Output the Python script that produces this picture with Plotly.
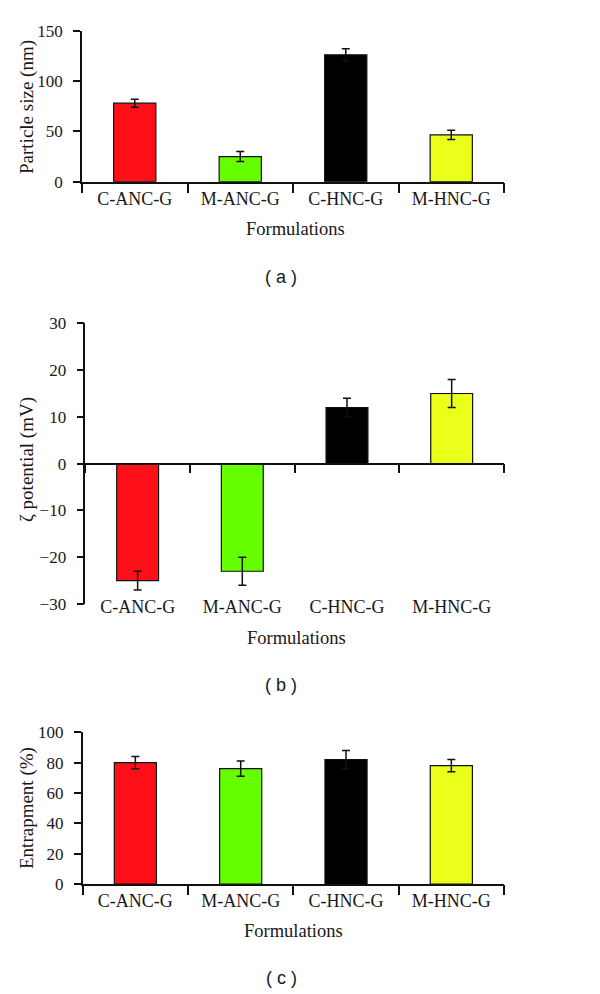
import plotly.graph_objects as go

categories = ["C-ANC-G", "M-ANC-G", "C-HNC-G", "M-HNC-G"]
bar_colors = ["#ff1018", "#66ff00", "#000000", "#eaff1a"]

size_values = [78, 25, 126, 46.5]
size_errors = [4, 5, 6, 4.5]

zeta_values = [-25, -23, 12, 15]
zeta_errors = [2, 3, 2, 3]

entrap_values = [80, 76, 82, 78]
entrap_errors = [4, 5, 6, 4]

# the page body has an 8px margin, so the figure is drawn at (8, 8)
OFF = 8
W, H = 600 - OFF, 994 - OFF
TXT = "#1a1718"
SERIF = "Liberation Serif, Times New Roman, serif"
SANS = "Liberation Sans, Arial, sans-serif"

def px_x(p):
    return (p - OFF) / W

def px_y(p):
    return 1 - (p - OFF) / H

xpos = list(range(len(categories)))

fig = go.Figure()

def add_bars(values, errors, xa, ya):
    fig.add_trace(go.Bar(
        x=xpos, y=values, width=0.4,
        marker=dict(color=bar_colors, line=dict(color="#111111", width=1.2)),
        error_y=dict(type="data", array=errors, visible=True,
                     color="#111111", thickness=1.5, width=4),
        xaxis=xa, yaxis=ya, showlegend=False,
    ))

add_bars(size_values, size_errors, "x", "y")
add_bars(zeta_values, zeta_errors, "x2", "y2")
add_bars(entrap_values, entrap_errors, "x3", "y3")

yax_common = dict(showline=True, linecolor="#111111", linewidth=1.5,
                  ticks="outside", ticklen=7, tickwidth=1.5, tickcolor="#111111",
                  showgrid=False, zeroline=False, automargin=False,
                  ticklabelstandoff=7,
                  tickfont=dict(family=SERIF, size=17, color=TXT))

xax_common = dict(range=[-0.5, 3.5], showgrid=False, zeroline=False, automargin=False,
                  tickfont=dict(family=SERIF, size=18, color=TXT))

bounds = [-0.5, 0.5, 1.5, 2.5, 3.5]

layout = dict(
    width=W, height=H,
    margin=dict(l=0, r=0, t=0, b=0),
    plot_bgcolor="white", paper_bgcolor="white",
)

# Panel a
dom_a_x = [px_x(82), px_x(504)]
dom_a_y = [px_y(181.7), px_y(30.7)]
layout["yaxis"] = dict(**yax_common, domain=dom_a_y, range=[0, 150],
                       tickvals=[0, 50, 100, 150], anchor="x")
layout["xaxis"] = dict(**xax_common, domain=dom_a_x, anchor="y",
                       tickvals=xpos, ticktext=categories, ticks="",
                       showline=True, linecolor="#111111", linewidth=1.5)
layout["xaxis4"] = dict(range=[-0.5, 3.5], domain=dom_a_x, overlaying="x",
                        anchor="y", side="bottom", showgrid=False, zeroline=False,
                        automargin=False,
                        tickvals=bounds, showticklabels=False, ticks="outside",
                        ticklen=10, tickwidth=1.5, tickcolor="#111111")

# Panel b
dom_b_x = [px_x(85.3), px_x(504)]
dom_b_y = [px_y(604), px_y(323.3)]
layout["yaxis2"] = dict(**yax_common, domain=dom_b_y, range=[-30, 30],
                        tickvals=[-30, -20, -10, 0, 10, 20, 30], anchor="x2")
layout["xaxis2"] = dict(**xax_common, domain=dom_b_x, anchor="y2",
                        tickvals=xpos, ticktext=categories, ticks="",
                        showline=False, ticklabelstandoff=-10)
layout["xaxis5"] = dict(range=[-0.5, 3.5], domain=dom_b_x, overlaying="x2",
                        anchor="free", position=(dom_b_y[0] + dom_b_y[1]) / 2,
                        side="bottom", showgrid=False, zeroline=False,
                        automargin=False,
                        showline=True, linecolor="#111111", linewidth=1.5,
                        tickvals=bounds, showticklabels=False, ticks="outside",
                        ticklen=9, tickwidth=1.5, tickcolor="#111111")

# Panel c
dom_c_x = [px_x(82.7), px_x(504)]
dom_c_y = [px_y(884), px_y(732.3)]
layout["yaxis3"] = dict(**yax_common, domain=dom_c_y, range=[0, 100],
                        tickvals=[0, 20, 40, 60, 80, 100], anchor="x3")
layout["xaxis3"] = dict(**xax_common, domain=dom_c_x, anchor="y3",
                        tickvals=xpos, ticktext=categories, ticks="",
                        showline=True, linecolor="#111111", linewidth=1.5)
layout["xaxis6"] = dict(range=[-0.5, 3.5], domain=dom_c_x, overlaying="x3",
                        anchor="y3", side="bottom", showgrid=False, zeroline=False,
                        automargin=False,
                        tickvals=bounds, showticklabels=False, ticks="outside",
                        ticklen=10, tickwidth=1.5, tickcolor="#111111")

fig.update_layout(**layout)

# invisible traces so the overlay axes render
for xa, ya in [("x4", "y"), ("x5", "y2"), ("x6", "y3")]:
    fig.add_trace(go.Scatter(x=[None], y=[None], xaxis=xa, yaxis=ya,
                             showlegend=False, hoverinfo="skip"))

ann = []
def ytitle(text, ycenter):
    ann.append(dict(text=text, xref="paper", yref="paper", x=px_x(27), y=px_y(ycenter),
                    xanchor="center", yanchor="middle", textangle=-90, showarrow=False,
                    font=dict(family=SERIF, size=19, color=TXT)))

def xtitle(text, xcenter, ycenter):
    ann.append(dict(text=text, xref="paper", yref="paper", x=px_x(xcenter), y=px_y(ycenter),
                    xanchor="center", yanchor="middle", showarrow=False,
                    font=dict(family=SERIF, size=18.5, color=TXT)))

def panel(text, ycenter):
    ann.append(dict(text=text, xref="paper", yref="paper", x=px_x(281), y=px_y(ycenter),
                    xanchor="center", yanchor="middle", showarrow=False,
                    font=dict(family=SANS, size=18, color=TXT)))

ytitle("Particle size (nm)", 107)
xtitle("Formulations", 295, 228.7)
panel("( a )", 277)

ytitle("ζ potential (mV)", 460)
xtitle("Formulations", 296, 638.3)
panel("( b )", 685)

ytitle("Entrapment (%)", 808)
xtitle("Formulations", 293, 930.7)
panel("( c )", 978)

fig.update_layout(annotations=ann)

fig.write_html("out.html")
